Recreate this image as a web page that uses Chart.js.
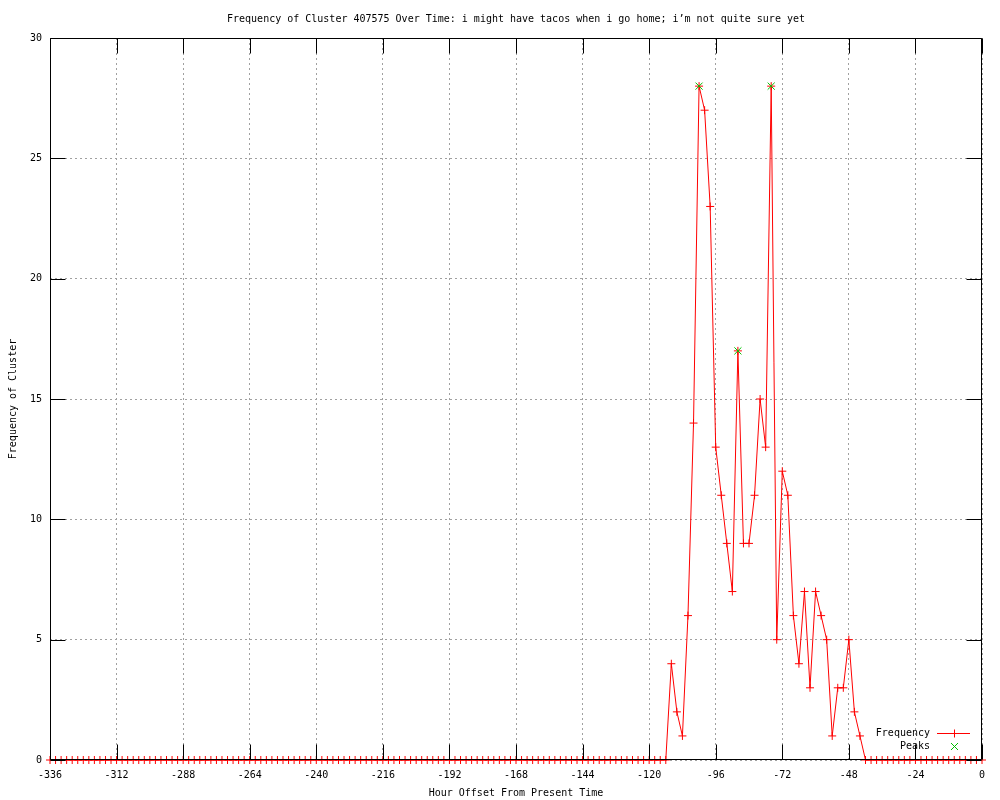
<!DOCTYPE html>
<html>
<head>
<meta charset="utf-8">
<title>Frequency of Cluster 407575</title>
<script src="https://cdn.jsdelivr.net/npm/chart.js@4/dist/chart.umd.min.js"></script>
<style>
    body { margin: 0; background: #fff; }
    #wrap { width: 1000px; height: 800px; }
</style>
</head>
<body>
<div id="wrap"><canvas id="freqChart" width="1000" height="800"></canvas></div>
<script>
// hour offsets, one point every 2 hours
const hours = [
    -336, -334, -332, -330, -328, -326, -324, -322, -320, -318, -316, -314,
    -312, -310, -308, -306, -304, -302, -300, -298, -296, -294, -292, -290,
    -288, -286, -284, -282, -280, -278, -276, -274, -272, -270, -268, -266,
    -264, -262, -260, -258, -256, -254, -252, -250, -248, -246, -244, -242,
    -240, -238, -236, -234, -232, -230, -228, -226, -224, -222, -220, -218,
    -216, -214, -212, -210, -208, -206, -204, -202, -200, -198, -196, -194,
    -192, -190, -188, -186, -184, -182, -180, -178, -176, -174, -172, -170,
    -168, -166, -164, -162, -160, -158, -156, -154, -152, -150, -148, -146,
    -144, -142, -140, -138, -136, -134, -132, -130, -128, -126, -124, -122,
    -120, -118, -116, -114, -112, -110, -108, -106, -104, -102, -100, -98,
    -96, -94, -92, -90, -88, -86, -84, -82, -80, -78, -76, -74,
    -72, -70, -68, -66, -64, -62, -60, -58, -56, -54, -52, -50,
    -48, -46, -44, -42, -40, -38, -36, -34, -32, -30, -28, -26,
    -24, -22, -20, -18, -16, -14, -12, -10, -8, -6, -4, -2,
    0
];

const frequency = [
    0, 0, 0, 0, 0, 0, 0, 0, 0, 0, 0, 0,
    0, 0, 0, 0, 0, 0, 0, 0, 0, 0, 0, 0,
    0, 0, 0, 0, 0, 0, 0, 0, 0, 0, 0, 0,
    0, 0, 0, 0, 0, 0, 0, 0, 0, 0, 0, 0,
    0, 0, 0, 0, 0, 0, 0, 0, 0, 0, 0, 0,
    0, 0, 0, 0, 0, 0, 0, 0, 0, 0, 0, 0,
    0, 0, 0, 0, 0, 0, 0, 0, 0, 0, 0, 0,
    0, 0, 0, 0, 0, 0, 0, 0, 0, 0, 0, 0,
    0, 0, 0, 0, 0, 0, 0, 0, 0, 0, 0, 0,
    0, 0, 0, 0, 4, 2, 1, 6, 14, 28, 27, 23,
    13, 11, 9, 7, 17, 9, 9, 11, 15, 13, 28, 5,
    12, 11, 6, 4, 7, 3, 7, 6, 5, 1, 3, 3,
    5, 2, 1, 0, 0, 0, 0, 0, 0, 0, 0, 0,
    0, 0, 0, 0, 0, 0, 0, 0, 0, 0, 0, 0,
    0
];

const peakHours = [-102, -88, -76];
const peakValues = [28, 17, 28];

const xTicks = [-336, -312, -288, -264, -240, -216, -192, -168, -144, -120, -96, -72, -48, -24, 0];
const yTicks = [0, 5, 10, 15, 20, 25, 30];

const FONT = { family: "'DejaVu Sans Mono', monospace", size: 10, weight: 'normal' };
const RED = '#ff0000';
const GREEN = '#00c000';
const TICK_LEN = 15;

// black frame + inward tick marks, drawn over the data like gnuplot does
const framePlugin = {
    id: 'frame',
    afterDatasetsDraw(chart) {
        const { ctx, chartArea: a, scales: { x, y } } = chart;
        const l = Math.round(a.left) + 0.5, r = Math.round(a.right) - 0.5;
        const t = Math.round(a.top) + 0.5, b = Math.round(a.bottom) - 0.5;
        ctx.save();
        ctx.strokeStyle = '#000';
        ctx.lineWidth = 1;
        ctx.beginPath();
        xTicks.forEach(v => {
            const px = Math.round(x.getPixelForValue(v)) + 0.5;
            ctx.moveTo(px, b); ctx.lineTo(px, b - TICK_LEN);
            ctx.moveTo(px, t); ctx.lineTo(px, t + TICK_LEN);
        });
        yTicks.forEach(v => {
            const py = Math.round(y.getPixelForValue(v)) + 0.5;
            ctx.moveTo(l, py); ctx.lineTo(l + TICK_LEN, py);
            ctx.moveTo(r, py); ctx.lineTo(r - TICK_LEN, py);
        });
        ctx.rect(l, t, r - l, b - t);
        ctx.stroke();
        ctx.restore();
    }
};

// gnuplot style key in the bottom right corner of the plot
const keyPlugin = {
    id: 'key',
    afterDatasetsDraw(chart) {
        const { ctx, chartArea: a } = chart;
        const sets = chart.data.datasets;
        ctx.save();
        ctx.font = "10px 'DejaVu Sans Mono', monospace";
        ctx.textAlign = 'right';
        ctx.textBaseline = 'middle';
        ctx.lineWidth = 1;
        sets.forEach((ds, i) => {
            const yy = Math.round(a.bottom - 27 + i * 13) + 0.5;
            ctx.fillStyle = '#000';
            ctx.fillText(ds.label, a.right - 52, yy);
            const mx = Math.round(a.right - 28) + 0.5;
            ctx.strokeStyle = ds.pointBorderColor;
            ctx.beginPath();
            if (ds.showLine !== false) {
                ctx.moveTo(a.right - 45, yy); ctx.lineTo(a.right - 12, yy);
            }
            if (ds.pointStyle === 'cross') {
                ctx.moveTo(mx - 4, yy); ctx.lineTo(mx + 4, yy);
                ctx.moveTo(mx, yy - 4); ctx.lineTo(mx, yy + 4);
            } else {
                ctx.moveTo(mx - 3.5, yy - 3.5); ctx.lineTo(mx + 3.5, yy + 3.5);
                ctx.moveTo(mx - 3.5, yy + 3.5); ctx.lineTo(mx + 3.5, yy - 3.5);
            }
            ctx.stroke();
        });
        ctx.restore();
    }
};

function renderChart() {
    const ctx = document.getElementById('freqChart').getContext('2d');

    new Chart(ctx, {
        type: 'line',
        data: {
            datasets: [{
                label: 'Frequency',
                data: hours.map((h, i) => ({ x: h, y: frequency[i] })),
                borderColor: RED,
                borderWidth: 1,
                pointStyle: 'cross',
                pointRadius: 4,
                pointBorderColor: RED,
                pointBorderWidth: 1,
                tension: 0,
                fill: false,
                clip: 12,
                order: 2
            }, {
                label: 'Peaks',
                data: peakHours.map((h, i) => ({ x: h, y: peakValues[i] })),
                showLine: false,
                borderColor: GREEN,
                pointStyle: 'crossRot',
                pointRadius: 5,
                pointBorderColor: GREEN,
                pointBorderWidth: 1,
                clip: 12,
                order: 1
            }]
        },
        options: {
            responsive: false,
            animation: false,
            events: [],
            layout: { padding: { top: 0, right: 18, bottom: 0, left: 0 } },
            plugins: {
                legend: { display: false },
                tooltip: { enabled: false },
                title: {
                    display: true,
                    fullSize: false,
                    text: 'Frequency of Cluster 407575 Over Time: i might have tacos when i go home; i\u2019m not quite sure yet',
                    color: '#000',
                    font: FONT,
                    padding: { top: 13, bottom: 13 }
                }
            },
            scales: {
                x: {
                    type: 'linear',
                    min: -336,
                    max: 0,
                    afterBuildTicks: s => { s.ticks = xTicks.map(v => ({ value: v })); },
                    afterFit: s => { s.height = 40; },
                    ticks: { color: '#000', font: FONT, padding: 9, maxRotation: 0, autoSkip: false },
                    grid: { color: '#a0a0a0', lineWidth: 1, drawTicks: false },
                    border: { display: false, dash: [2, 3] },
                    title: {
                        display: true,
                        text: 'Hour Offset From Present Time',
                        color: '#000',
                        font: FONT,
                        padding: { top: 0, bottom: 1 }
                    }
                },
                y: {
                    min: 0,
                    max: 30,
                    afterBuildTicks: s => { s.ticks = yTicks.map(v => ({ value: v })); },
                    afterFit: s => { s.width = 50; },
                    ticks: { color: '#000', font: FONT, padding: 8 },
                    grid: { color: '#a0a0a0', lineWidth: 1, drawTicks: false },
                    border: { display: false, dash: [2, 3] },
                    title: {
                        display: true,
                        text: 'Frequency of Cluster',
                        color: '#000',
                        font: FONT,
                        padding: { top: 7, bottom: 0 }
                    }
                }
            }
        },
        plugins: [framePlugin, keyPlugin]
    });
}

document.addEventListener('DOMContentLoaded', renderChart);
</script>
</body>
</html>
